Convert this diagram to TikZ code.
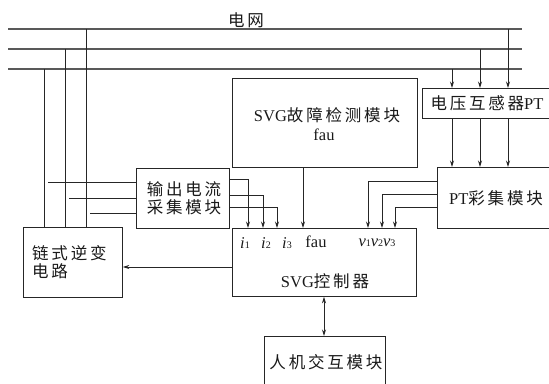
\documentclass[tikz,border=0pt]{standalone}
\usepackage{fontspec}
\setmainfont{Liberation Serif}
\newfontfamily\cjk[LetterSpace=17]{Noto Sans CJK SC}
\usetikzlibrary{arrows.meta}
\newcommand{\sub}[1]{{\fontsize{10}{10}\selectfont\raisebox{-0.5pt}{\upshape #1}}}
\begin{document}
\begin{tikzpicture}[x=1pt,y=-1pt,
  box/.style={draw=black!85, line width=0.8pt, inner sep=0pt, anchor=north west},
  wire/.style={draw=black!85, line width=0.8pt},
  gridline/.style={draw=black!65, line width=1.1pt},
  arr/.style={wire, -{Stealth[length=6.5pt,width=4pt]}},
  arrtwo/.style={wire, {Stealth[length=6.5pt,width=4pt]}-{Stealth[length=6.5pt,width=4pt]}},
  lbl/.style={inner sep=0pt, font=\fontsize{16.5}{18}\selectfont, text=black!90}]
\useasboundingbox (0,0) rectangle (549,383);
\clip (0,0) rectangle (549,383);

% boxes
\node[box, minimum width=185pt, minimum height=89pt] (fault) at (232,78) {};
\node[box, minimum width=127pt, minimum height=30pt] (ptbox) at (422,88) {};
\node[box, minimum width=112pt, minimum height=61pt] (ptc) at (437,167) {};
\node[box, minimum width=184pt, minimum height=68pt] (ctrl) at (232,228) {};
\node[box, minimum width=93pt, minimum height=60pt] (cur) at (136,168) {};
\node[box, minimum width=99pt, minimum height=70pt] (inv) at (23,227) {};
\node[box, minimum width=121pt, minimum height=70pt] (hmi) at (264,336) {};

% texts
\node[lbl] (netlbl) at (246,20) {\cjk 电网};
\node[lbl] (faultt) at (327,115) {SVG\cjk 故障检测模块};
\node[lbl] (faultf) at (324,135) {fau};
\node[lbl] (ptt) at (487,103) {\cjk 电压互感器\normalfont PT};
\node[lbl] (ptct) at (496,198) {PT\cjk 彩集模块};
\node[lbl] (curt1) at (184,189) {\cjk 输出电流};
\node[lbl] (curt2) at (184,207) {\cjk 采集模块};
\node[lbl, anchor=west] (invt1) at (32,253) {\cjk 链式逆变};
\node[lbl, anchor=west] (invt2) at (32,271) {\cjk 电路};
\node[lbl] (ci1) at (245,243) {\itshape i\sub{1}};
\node[lbl] (ci2) at (266,243) {\itshape i\sub{2}};
\node[lbl] (ci3) at (287,243) {\itshape i\sub{3}};
\node[lbl] (cfau) at (316,242) {fau};
\node[lbl] (cv) at (377,243) {\itshape v\sub{1}v\sub{2}v\sub{3}};
\node[lbl] (ctrlt) at (325,281) {SVG\cjk 控制器};
\node[lbl] (hmit) at (326,362) {\cjk 人机交互模块};

% helper coordinates
\coordinate (gA) at (8,29);  \coordinate (gAr) at (522,29);
\coordinate (gB) at (8,49);  \coordinate (gBr) at (522,49);
\coordinate (gC) at (8,69);  \coordinate (gCr) at (522,69);
\foreach \v in {44,65,86,452,480,508,368,382,395,248,263,277,303,324}{\coordinate (x\v) at (\v,0);}
\foreach \v in {179,181,182,194,195,198,207,213,267}{\coordinate (y\v) at (0,\v);}
\coordinate (s1) at (48,182);
\coordinate (s2) at (69,198);
\coordinate (s3) at (90,213);

% grid
\draw[gridline] (gA) -- (gAr);
\draw[gridline] (gB) -- (gBr);
\draw[gridline] (gC) -- (gCr);

% grid to inverter
\draw[wire] (gA -| x86) -- (inv.north -| x86);
\draw[wire] (gB -| x65) -- (inv.north -| x65);
\draw[wire] (gC -| x44) -- (inv.north -| x44);

% grid to PT
\draw[arr] (gA -| x508) -- (ptbox.north -| x508);
\draw[arr] (gB -| x480) -- (ptbox.north -| x480);
\draw[arr] (gC -| x452) -- (ptbox.north -| x452);

% PT to PT collect
\draw[arr] (ptbox.south -| x452) -- (ptc.north -| x452);
\draw[arr] (ptbox.south -| x480) -- (ptc.north -| x480);
\draw[arr] (ptbox.south -| x508) -- (ptc.north -| x508);

% PT collect to controller
\draw[arr] (ptc.west |- y181) -| (ctrl.north -| x368);
\draw[arr] (ptc.west |- y194) -| (ctrl.north -| x382);
\draw[arr] (ptc.west |- y207) -| (ctrl.north -| x395);

% current sampling inputs
\draw[wire] (s1) -- (cur.west |- s1);
\draw[wire] (s2) -- (cur.west |- s2);
\draw[wire] (s3) -- (cur.west |- s3);

% current sampling outputs
\draw[arr] (cur.east |- y179) -| (ctrl.north -| x248);
\draw[arr] (cur.east |- y195) -| (ctrl.north -| x263);
\draw[arr] (cur.east |- y207) -| (ctrl.north -| x277);

% fault to controller
\draw[arr] (fault.south -| x303) -- (ctrl.north -| x303);

% controller to inverter
\draw[arr] (ctrl.west |- y267) -- (inv.east |- y267);

% controller <-> HMI
\draw[arrtwo] (ctrl.south -| x324) -- (hmi.north -| x324);
\end{tikzpicture}
\end{document}
